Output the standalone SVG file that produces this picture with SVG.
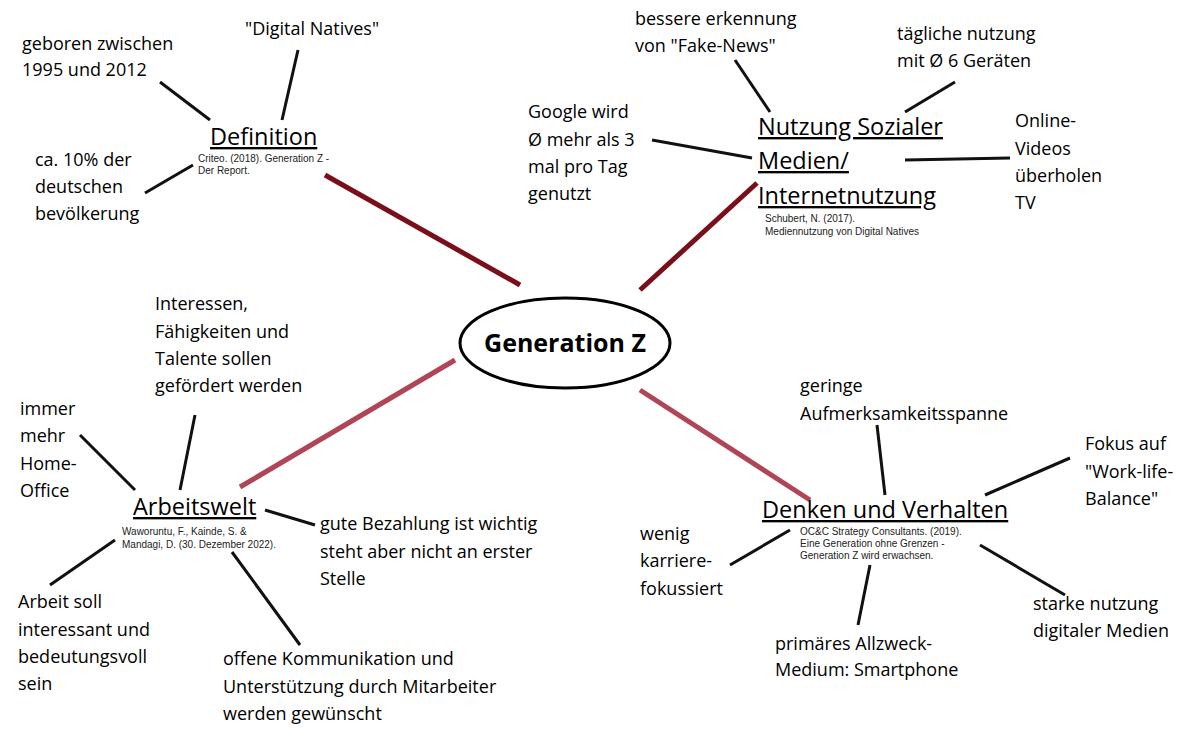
<svg xmlns="http://www.w3.org/2000/svg" width="1200" height="740" viewBox="0 0 1200 740">
<style>
text{font-family:"Open Sans","Liberation Sans",sans-serif;fill:#000}
.t{font-size:18px}
.h{font-size:23.5px;text-decoration:underline}
.c{font-size:10px;fill:#222;font-family:"Liberation Sans",Arial,sans-serif}
.main{stroke-width:5;fill:none}
.leaf{stroke:#111;stroke-width:3;fill:none}
</style>
<rect width="1200" height="740" fill="#fff"/>
<g id="connectors">
<line class="main" stroke="#7a0f1a" x1="325" y1="175" x2="520" y2="285"/>
<line class="main" stroke="#7a0f1a" x1="757" y1="183" x2="640" y2="290"/>
<line class="main" stroke="#b04555" x1="455" y1="360" x2="240" y2="487"/>
<line class="main" stroke="#b04555" x1="640" y1="390" x2="810" y2="500"/>
<line class="leaf" x1="160" y1="82" x2="210" y2="120"/>
<line class="leaf" x1="298" y1="50" x2="282" y2="120"/>
<line class="leaf" x1="145" y1="193" x2="193" y2="165"/>
<line class="leaf" x1="735" y1="60" x2="770" y2="112"/>
<line class="leaf" x1="955" y1="82" x2="905" y2="112"/>
<line class="leaf" x1="652" y1="140" x2="752" y2="158"/>
<line class="leaf" x1="905" y1="160" x2="1010" y2="158"/>
<line class="leaf" x1="195" y1="415" x2="180" y2="490"/>
<line class="leaf" x1="80" y1="435" x2="135" y2="490"/>
<line class="leaf" x1="265" y1="510" x2="315" y2="525"/>
<line class="leaf" x1="50" y1="585" x2="115" y2="540"/>
<line class="leaf" x1="232" y1="552" x2="300" y2="645"/>
<line class="leaf" x1="877" y1="425" x2="885" y2="495"/>
<line class="leaf" x1="1070" y1="458" x2="985" y2="495"/>
<line class="leaf" x1="730" y1="565" x2="790" y2="530"/>
<line class="leaf" x1="980" y1="545" x2="1065" y2="595"/>
<line class="leaf" x1="870" y1="565" x2="858" y2="625"/>
</g>
<g id="center">
<ellipse cx="565" cy="343" rx="105" ry="45" fill="#fff" stroke="#000" stroke-width="3"/>
<text x="565" y="352" text-anchor="middle" style="font-size:25px;font-weight:bold">Generation Z</text>
</g>
<g id="definition">
<text class="h" x="210" y="145">Definition</text>
<text class="c" x="198" y="162">Criteo. (2018). Generation Z -</text>
<text class="c" x="198" y="174">Der Report.</text>
</g>
<g id="geboren"><text class="t" x="22" y="50">geboren zwischen</text><text class="t" x="22" y="76">1995 und 2012</text></g>
<g id="digital"><text class="t" x="245" y="35">"Digital Natives"</text></g>
<g id="prozent"><text class="t" x="35" y="166">ca. 10% der</text><text class="t" x="35" y="193">deutschen</text><text class="t" x="35" y="220">bevölkerung</text></g>
<g id="nutzung">
<text class="h" x="758" y="135">Nutzung Sozialer</text>
<text class="h" x="758" y="169">Medien/</text>
<text class="h" x="758" y="204">Internetnutzung</text>
<text class="c" x="765" y="222">Schubert, N. (2017).</text>
<text class="c" x="765" y="235">Mediennutzung von Digital Natives</text>
</g>
<g id="fake"><text class="t" x="635" y="25">bessere erkennung</text><text class="t" x="635" y="52">von "Fake-News"</text></g>
<g id="taeglich"><text class="t" x="897" y="40">tägliche nutzung</text><text class="t" x="897" y="67">mit Ø 6 Geräten</text></g>
<g id="google"><text class="t" x="528" y="118">Google wird</text><text class="t" x="528" y="146">Ø mehr als 3</text><text class="t" x="528" y="173">mal pro Tag</text><text class="t" x="528" y="200">genutzt</text></g>
<g id="online"><text class="t" x="1015" y="127">Online-</text><text class="t" x="1015" y="155">Videos</text><text class="t" x="1015" y="182">überholen</text><text class="t" x="1015" y="209">TV</text></g>
<g id="arbeitswelt">
<text class="h" x="133" y="515">Arbeitswelt</text>
<text class="c" x="122" y="535">Waworuntu, F., Kainde, S. &amp;</text>
<text class="c" x="122" y="548">Mandagi, D. (30. Dezember 2022).</text>
</g>
<g id="interessen"><text class="t" x="155" y="310">Interessen,</text><text class="t" x="155" y="338">Fähigkeiten und</text><text class="t" x="155" y="365">Talente sollen</text><text class="t" x="155" y="392">gefördert werden</text></g>
<g id="home"><text class="t" x="20" y="415">immer</text><text class="t" x="20" y="442">mehr</text><text class="t" x="20" y="470">Home-</text><text class="t" x="20" y="497">Office</text></g>
<g id="bezahlung"><text class="t" x="320" y="530">gute Bezahlung ist wichtig</text><text class="t" x="320" y="558">steht aber nicht an erster</text><text class="t" x="320" y="585">Stelle</text></g>
<g id="arbeit"><text class="t" x="18" y="608">Arbeit soll</text><text class="t" x="18" y="636">interessant und</text><text class="t" x="18" y="663">bedeutungsvoll</text><text class="t" x="18" y="690">sein</text></g>
<g id="offene"><text class="t" x="223" y="665">offene Kommunikation und</text><text class="t" x="223" y="693">Unterstützung durch Mitarbeiter</text><text class="t" x="223" y="720">werden gewünscht</text></g>
<g id="denken">
<text class="h" x="762" y="518">Denken und Verhalten</text>
<text class="c" x="800" y="535">OC&amp;C Strategy Consultants. (2019).</text>
<text class="c" x="800" y="547">Eine Generation ohne Grenzen -</text>
<text class="c" x="800" y="559">Generation Z wird erwachsen.</text>
</g>
<g id="geringe"><text class="t" x="800" y="392">geringe</text><text class="t" x="800" y="420">Aufmerksamkeitsspanne</text></g>
<g id="fokus"><text class="t" x="1085" y="450">Fokus auf</text><text class="t" x="1085" y="478">"Work-life-</text><text class="t" x="1085" y="505">Balance"</text></g>
<g id="wenig"><text class="t" x="640" y="540">wenig</text><text class="t" x="640" y="567">karriere-</text><text class="t" x="640" y="595">fokussiert</text></g>
<g id="starke"><text class="t" x="1033" y="610">starke nutzung</text><text class="t" x="1033" y="637">digitaler Medien</text></g>
<g id="primaer"><text class="t" x="775" y="650">primäres Allzweck-</text><text class="t" x="775" y="676">Medium: Smartphone</text></g>
</svg>
